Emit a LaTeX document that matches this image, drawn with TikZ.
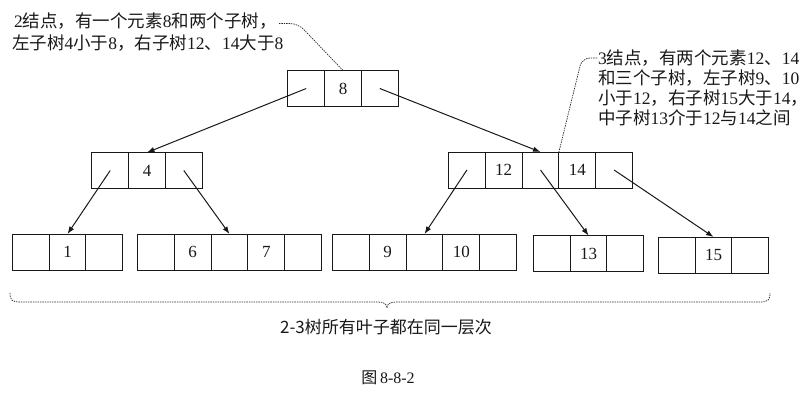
\documentclass[tikz,border=0pt]{standalone}
\usepackage{fontspec}
\setmainfont{Liberation Serif}
\newfontfamily\cjk{Noto Sans CJK SC}
\usetikzlibrary{arrows.meta,positioning}
\begin{document}
\begin{tikzpicture}[x=1pt,y=-1pt,
  cell/.style={draw=black!90,line width=1pt,minimum width=36.8pt,minimum height=36pt,inner sep=0pt,outer sep=0pt,font=\fontsize{17}{17}\selectfont,text=black!90},
  ptr/.style={draw=black!90,line width=1pt,-{Latex[length=7.5pt,width=5.5pt]}},
  leader/.style={draw=black!85,line width=0.7pt,dash pattern=on 1.4pt off 1pt},
  note/.style={anchor=base west,inner sep=0pt,font=\fontsize{17.5}{17.5}\selectfont,text=black!90},
  lbl/.style={inner sep=0pt,text=black!90}]
\useasboundingbox[fill=white] (0,0) rectangle (810,400);
% root
\node[cell] (r2) at (343,88.5) {8};
\node[cell,left=0pt of r2] (r1) {};
\node[cell,right=0pt of r2] (r3) {};
% node 4
\node[cell] (n4b) at (147,170.5) {4};
\node[cell,left=0pt of n4b] (n4a) {};
\node[cell,right=0pt of n4b] (n4c) {};
% node 12 14
\node[cell] (m3) at (540.5,170) {};
\node[cell,left=0pt of m3] (m2) {12};
\node[cell,left=0pt of m2] (m1) {};
\node[cell,right=0pt of m3] (m4) {14};
\node[cell,right=0pt of m4] (m5) {};
% leaf 1
\node[cell] (a2) at (67.5,252) {1};
\node[cell,left=0pt of a2] (a1) {};
\node[cell,right=0pt of a2] (a3) {};
% leaf 6 7
\node[cell] (b3) at (229.5,252) {};
\node[cell,left=0pt of b3] (b2) {6};
\node[cell,left=0pt of b2] (b1) {};
\node[cell,right=0pt of b3] (b4) {7};
\node[cell,right=0pt of b4] (b5) {};
% leaf 9 10
\node[cell] (c3) at (424.5,252) {};
\node[cell,left=0pt of c3] (c2) {9};
\node[cell,left=0pt of c2] (c1) {};
\node[cell,right=0pt of c3] (c4) {10};
\node[cell,right=0pt of c4] (c5) {};
% leaf 13
\node[cell] (d2) at (588.5,253.5) {13};
\node[cell,left=0pt of d2] (d1) {};
\node[cell,right=0pt of d2] (d3) {};
% leaf 15
\node[cell] (e2) at (713.5,255) {15};
\node[cell,left=0pt of e2] (e1) {};
\node[cell,right=0pt of e2] (e3) {};
% pointers
\draw[ptr] (r1.center) -- (n4b.north);
\draw[ptr] (r3.center) -- (m3.north);
\draw[ptr] (n4a.center) -- (a2.north);
\draw[ptr] (n4c.center) -- (b3.north);
\draw[ptr] (m1.center) -- (c3.north);
\draw[ptr] (m3.center) -- (d2.north);
\draw[ptr] (m5.center) -- (e2.north);
% annotation 1
\node[note] (t1a) at (14,27.5) {2{\cjk 结点，有一个元素}8{\cjk 和两个子树，}};
\node[note] (t1b) at (12,49.5) {{\cjk 左子树}4{\cjk 小于}8{\cjk ，右子树}12{\cjk 、}14{\cjk 大于}8};
\coordinate (l1s) at (279,23.5);
\draw[leader,rounded corners=8pt] (l1s) -- (298,23.5) -- (r2.north);
% annotation 2
\node[note] (t2a) at (598,64.5) {3{\cjk 结点，有两个元素}12{\cjk 、}14};
\node[note] (t2b) at (598,84.5) {{\cjk 和三个子树，左子树}9{\cjk 、}10};
\node[note] (t2c) at (598,104.5) {{\cjk 小于}12{\cjk ，右子树}15{\cjk 大于}14{\cjk ，}};
\node[note] (t2d) at (598,124.5) {{\cjk 中子树}13{\cjk 介于}12{\cjk 与}14{\cjk 之间}};
\coordinate (l2s) at (597,58);
\draw[leader,rounded corners=8pt] (l2s) -- (582,58) -- (m4.north west);
% brace
\draw[leader] (10,293) .. controls (10,300) and (12,302) .. (20,302) -- (378,302)
  .. controls (384,302) and (387,304) .. (387,308)
  .. controls (387,304) and (390,302) .. (396,302) -- (760,302)
  .. controls (768,302) and (770,300) .. (770,293);
\node[lbl,font=\cjk\fontsize{17}{17}\selectfont] (leaves) at (386,327) {2-3树所有叶子都在同一层次};
\node[lbl,font=\fontsize{16}{16}\selectfont] (cap) at (388,378) {{\cjk 图}\,8-8-2};
\end{tikzpicture}
\end{document}
